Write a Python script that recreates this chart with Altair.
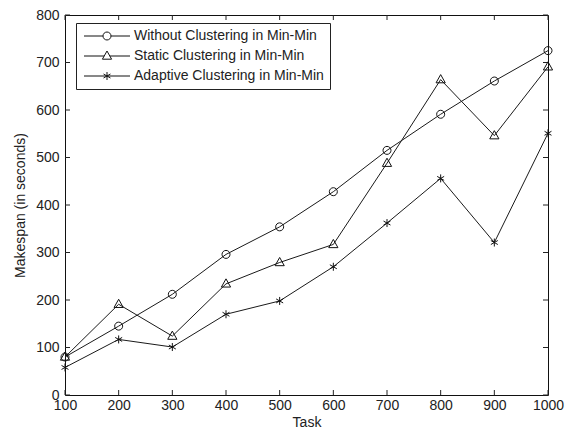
import altair as alt
import pandas as pd

tasks = [100, 200, 300, 400, 500, 600, 700, 800, 900, 1000]
without_clustering = [80, 145, 212, 296, 354, 428, 515, 591, 661, 725]
static_clustering = [80, 191, 124, 234, 279, 317, 488, 664, 546, 691]
adaptive_clustering = [58, 117, 101, 170, 198, 270, 362, 456, 321, 551]
series_names = ["Without Clustering in Min-Min", "Static Clustering in Min-Min",
                "Adaptive Clustering in Min-Min"]
x_ticks = [100, 200, 300, 400, 500, 600, 700, 800, 900, 1000]
y_ticks = [0, 100, 200, 300, 400, 500, 600, 700, 800]

rows = []
for name, vals in zip(series_names, [without_clustering, static_clustering, adaptive_clustering]):
    for t, v in zip(tasks, vals):
        rows.append({"Task": t, "Makespan": v, "Series": name})
df = pd.DataFrame(rows)

W, H = 483, 380
circle = "M-1,0A1,1,0,1,0,1,0A1,1,0,1,0,-1,0Z"
tri = "M0,-1.25L1.15,0.8L-1.15,0.8Z"
star = "M0,-1V1M-0.87,-0.5L0.87,0.5M-0.87,0.5L0.87,-0.5"
leg_shapes = [circle + "M-5.75,0H-1M1,0H5.75",
              tri + "M-5.75,0H-0.7M0.7,0H5.75",
              star + "M-5.75,0H5.75"]

xs = alt.Scale(domain=[100, 1000], nice=False, zero=False)
ys = alt.Scale(domain=[0, 800], nice=False)

base = alt.Chart(df)
lines = base.mark_line(color="#1a1a1a", strokeWidth=1).encode(
    x=alt.X("Task:Q", scale=xs, title="Task",
            axis=alt.Axis(values=x_ticks, format="d")),
    y=alt.Y("Makespan:Q", scale=ys, title="Makespan (in seconds)",
            axis=alt.Axis(values=y_ticks)),
    detail="Series:N",
)
points = base.mark_point(filled=False, color="#111", strokeWidth=1, size=64, opacity=1).encode(
    x=alt.X("Task:Q", scale=xs),
    y=alt.Y("Makespan:Q", scale=ys),
    shape=alt.Shape("Series:N",
                    scale=alt.Scale(domain=series_names, range=[circle, tri, star]),
                    legend=None),
)
legend_layer = base.transform_filter("datum.Task < 0").mark_point(
    filled=False, color="#111", strokeWidth=1, size=64, opacity=1).encode(
    x=alt.X("Task:Q", scale=xs),
    y=alt.Y("Makespan:Q", scale=ys),
    shape=alt.Shape("Series:N",
                    scale=alt.Scale(domain=series_names, range=leg_shapes),
                    legend=alt.Legend(title=None, orient="none", legendX=11, legendY=8)),
)

xt = pd.DataFrame({"v": x_ticks})
yt = pd.DataFrame({"v": y_ticks})
tick_color = "#222"
xb = alt.Chart(xt).mark_rule(color=tick_color).encode(
    x=alt.X("v:Q", scale=xs), y=alt.value(H), y2=alt.value(H - 5))
xtop = alt.Chart(xt).mark_rule(color=tick_color).encode(
    x=alt.X("v:Q", scale=xs), y=alt.value(0), y2=alt.value(5))
yl = alt.Chart(yt).mark_rule(color=tick_color).encode(
    y=alt.Y("v:Q", scale=ys), x=alt.value(0), x2=alt.value(5))
yr = alt.Chart(yt).mark_rule(color=tick_color).encode(
    y=alt.Y("v:Q", scale=ys), x=alt.value(W), x2=alt.value(W - 5))

chart = alt.layer(xb, xtop, yl, yr, lines, points, legend_layer).resolve_scale(
    shape="independent"
).properties(
    width=W, height=H,
    autosize=alt.AutoSizeParams(type="none"),
    padding={"left": 57, "top": 7, "right": 17, "bottom": 32},
).configure_view(stroke="#111", strokeWidth=1).configure_axis(
    ticks=False, domain=False, grid=False,
    labelFont="Liberation Sans", labelFontSize=14, labelColor="#222",
    titleFont="Liberation Sans", titleFontSize=14, titleColor="#222",
    titleFontWeight="normal",
).configure_axisX(labelPadding=3, titlePadding=3, labelFlush=False
).configure_axisY(labelPadding=6, titlePadding=8
).configure_legend(
    strokeColor="#222", fillColor="white", padding=6, cornerRadius=0,
    labelFont="Liberation Sans", labelFontSize=14, labelColor="#222",
    symbolStrokeColor="#111", symbolFillColor="transparent", symbolStrokeWidth=1,
    symbolSize=64, symbolOffset=18, labelOffset=20, rowPadding=6, labelLimit=400,
    symbolOpacity=1,
)

chart.save("out.html", embed_options={"renderer": "svg", "actions": False})
